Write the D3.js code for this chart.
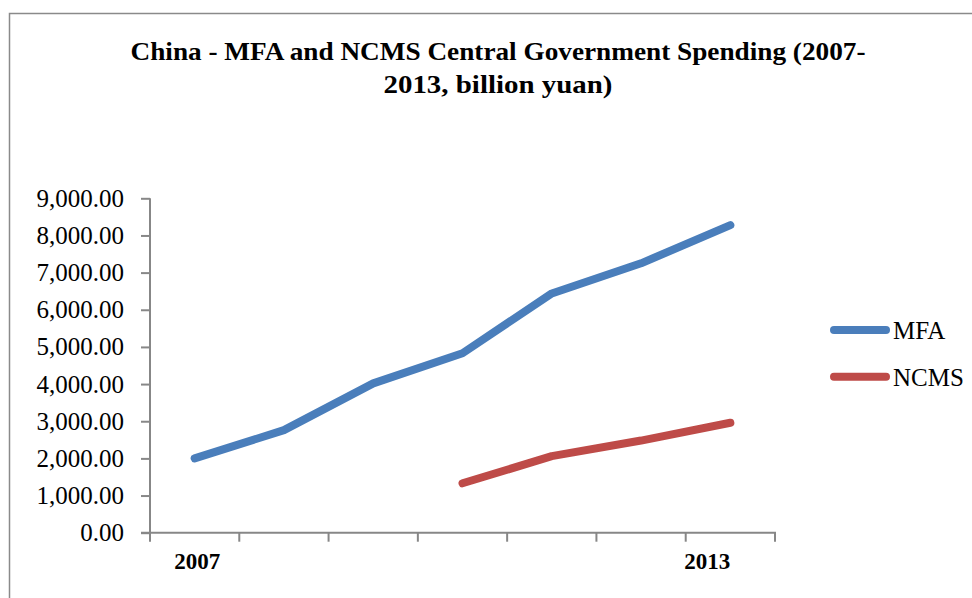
<!DOCTYPE html>
<html>
<head>
<meta charset="utf-8">
<script src="https://cdn.jsdelivr.net/npm/d3@7"></script>
<style>
  html, body { margin: 0; padding: 0; background: #fff; }
  svg { display: block; }
</style>
</head>
<body>
<svg id="chart" width="972" height="598"></svg>
<script>
// Spending, billion yuan
const years = ["2007", "2008", "2009", "2010", "2011", "2012", "2013"];
const mfaValues = [2000, 2760, 4020, 4830, 6440, 7250, 8280];
const ncmsValues = [null, null, null, 1330, 2060, 2480, 2960];
const seriesNames = ["MFA", "NCMS"];
const seriesColors = ["#4A7EBB", "#BE4B48"];
const yTicks = [0, 1000, 2000, 3000, 4000, 5000, 6000, 7000, 8000, 9000];
const xLabelYears = ["2007", "2013"];
const titleLines = ["China - MFA and NCMS Central Government Spending (2007-", "2013, billion yuan)"];

const svg = d3.select("#chart");
const serif = "'Liberation Serif', 'DejaVu Serif', serif";
const axisGray = "#878787";

// outer chart frame
svg.append("rect")
  .attr("x", 9.5).attr("y", 13.5)
  .attr("width", 1000).attr("height", 1000)
  .attr("fill", "#fff")
  .attr("stroke", "#8a8a8a").attr("stroke-width", 1.5);

const plot = { left: 150, right: 775, top: 198.3, bottom: 532.7 };

const x = d3.scaleBand().domain(years).range([plot.left, plot.right]).padding(0);
const y = d3.scaleLinear().domain([0, 9000]).range([plot.bottom, plot.top]);

// title
const title = svg.append("text")
  .attr("text-anchor", "middle")
  .attr("font-family", serif)
  .attr("font-weight", "bold")
  .attr("font-size", 26)
  .attr("fill", "#000");
const titleWidths = [735, 229];
titleLines.forEach((t, i) => {
  title.append("tspan")
    .attr("x", 498).attr("y", 60 + i * 33)
    .attr("textLength", titleWidths[i])
    .attr("lengthAdjust", "spacingAndGlyphs")
    .text(t);
});

// y axis
const yAxis = d3.axisLeft(y)
  .tickValues(yTicks)
  .tickSize(9)
  .tickPadding(17)
  .tickFormat(d3.format(",.2f"));
const gy = svg.append("g")
  .attr("transform", `translate(${plot.left},0)`)
  .call(yAxis);
gy.select(".domain").remove();
gy.append("line")
  .attr("x1", 0).attr("x2", 0)
  .attr("y1", plot.top).attr("y2", plot.bottom)
  .attr("stroke", axisGray).attr("stroke-width", 2);
gy.selectAll(".tick line").attr("stroke", axisGray).attr("stroke-width", 2);
gy.selectAll(".tick text")
  .attr("font-family", serif)
  .attr("font-size", 25)
  .attr("fill", "#000");

// x axis: baseline plus boundary ticks between categories
const gx = svg.append("g");
gx.append("line")
  .attr("x1", plot.left - 9).attr("x2", plot.right + 1)
  .attr("y1", plot.bottom).attr("y2", plot.bottom)
  .attr("stroke", axisGray).attr("stroke-width", 2);
const boundaries = years.map(d => x(d)).concat([plot.right]);
gx.selectAll("line.xtick")
  .data(boundaries)
  .join("line")
  .attr("class", "xtick")
  .attr("x1", d => d).attr("x2", d => d)
  .attr("y1", plot.bottom).attr("y2", plot.bottom + 9)
  .attr("stroke", axisGray).attr("stroke-width", 2);

// category labels shown every sixth year; the last one sits nearer its left boundary
gx.selectAll("text.xlabel")
  .data(xLabelYears)
  .join("text")
  .attr("class", "xlabel")
  .attr("x", (d, i) => i === 0 ? x(d) + x.bandwidth() * 0.53 : x(d) + x.bandwidth() * 0.24)
  .attr("y", 569)
  .attr("text-anchor", "middle")
  .attr("font-family", serif)
  .attr("font-weight", "bold")
  .attr("font-size", 23)
  .attr("fill", "#000")
  .text(d => d);

// lines
const allSeries = [mfaValues, ncmsValues];
const line = d3.line()
  .defined(d => d.v != null)
  .x(d => x(d.year) + x.bandwidth() / 2)
  .y(d => y(d.v));

allSeries.forEach((vals, i) => {
  const pts = years.map((year, j) => ({ year, v: vals[j] }));
  svg.append("path")
    .datum(pts)
    .attr("d", line)
    .attr("fill", "none")
    .attr("stroke", seriesColors[i])
    .attr("stroke-width", 8)
    .attr("stroke-linecap", "round")
    .attr("stroke-linejoin", "round");
});

// legend
const legend = svg.append("g");
seriesNames.forEach((name, i) => {
  const ly = 330 + i * 46.7;
  legend.append("line")
    .attr("x1", 834).attr("x2", 886)
    .attr("y1", ly).attr("y2", ly)
    .attr("stroke", seriesColors[i])
    .attr("stroke-width", 8)
    .attr("stroke-linecap", "round");
  legend.append("text")
    .attr("x", 893).attr("y", ly + 9)
    .attr("font-family", serif)
    .attr("font-size", 25)
    .attr("fill", "#000")
    .text(name);
});
</script>
</body>
</html>
